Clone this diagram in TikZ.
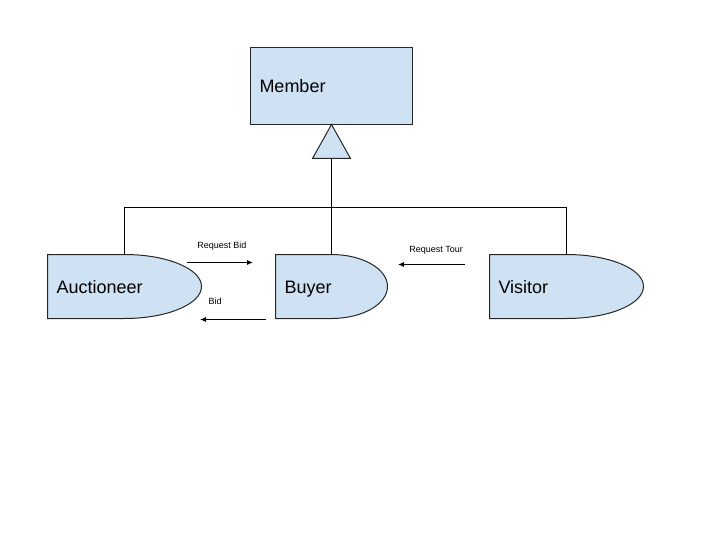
\documentclass[tikz,border=0pt]{standalone}
\usepackage{fontspec}
\setmainfont{Liberation Sans}
\usetikzlibrary{positioning, arrows.meta, backgrounds}
\definecolor{boxblue}{HTML}{CFE2F3}
\newcommand{\smallarrow}{-{Latex[length=6pt,width=5pt]}}
% half box, half ellipse
\newcommand{\dshape}[2]{%
  \draw[line width=1pt, fill=boxblue, draw=black!85] (#1.north west) -- (#1.north)
  arc[start angle=-90, end angle=90, x radius=#2, y radius=32] -- (#1.south west) -- cycle;}

\begin{document}
\begin{tikzpicture}[x=1pt, y=-1pt, line width=1pt,
    every node/.style={font=\fontsize{18}{20}\selectfont},
    classbox/.style={anchor=north west, outer sep=0pt, inner xsep=9pt, align=left, text height=14pt, text depth=0pt},
    small/.style={font=\fontsize{9}{10}\selectfont}]
    \useasboundingbox (0,0) rectangle (720,540);
    \node[classbox, draw=black!85, fill=boxblue, minimum height=77, text width=144] (member) at (250.5,47.5) {Member};
    \node[classbox, minimum height=64, text width=136] (auctioneer) at (47.5,254.5) {Auctioneer};
    \node[classbox, minimum height=64, text width=94] (buyer) at (275.5,254.5) {Buyer};
    \node[classbox, minimum height=64, text width=136] (visitor) at (489.5,254.5) {Visitor};
    \begin{scope}[on background layer]
        \dshape{auctioneer}{77}
        \dshape{buyer}{56}
        \dshape{visitor}{77}
    \end{scope}
    % inheritance
    \draw[fill=boxblue, draw=black!85] (member.south) -- ++(19,34) coordinate (tri)
    -- ++(-38,0) -- cycle;
    \coordinate (bus) at (331.5,207.5);
    \draw (buyer.north) -- (member.south |- tri);
    \draw (auctioneer.north) |- (bus) -| (visitor.north);
    % messages
    \coordinate (rb1) at (187,262.5);
    \coordinate (rb2) at (253,262.5);
    \coordinate (bd1) at (266,319.5);
    \coordinate (bd2) at (200,319.5);
    \coordinate (rt1) at (465,264.5);
    \coordinate (rt2) at (398,264.5);
    \draw[\smallarrow] (rb1) -- (rb2) node[small, pos=0.53, above=8pt] (reqbid) {Request Bid};
    \draw[\smallarrow] (bd1) -- (bd2) node[small, pos=0.77, above=11pt] (bid) {Bid};
    \draw[\smallarrow] (rt1) -- (rt2) node[small, pos=0.43, above=6pt] (reqtour) {Request Tour};
\end{tikzpicture}
\end{document}
